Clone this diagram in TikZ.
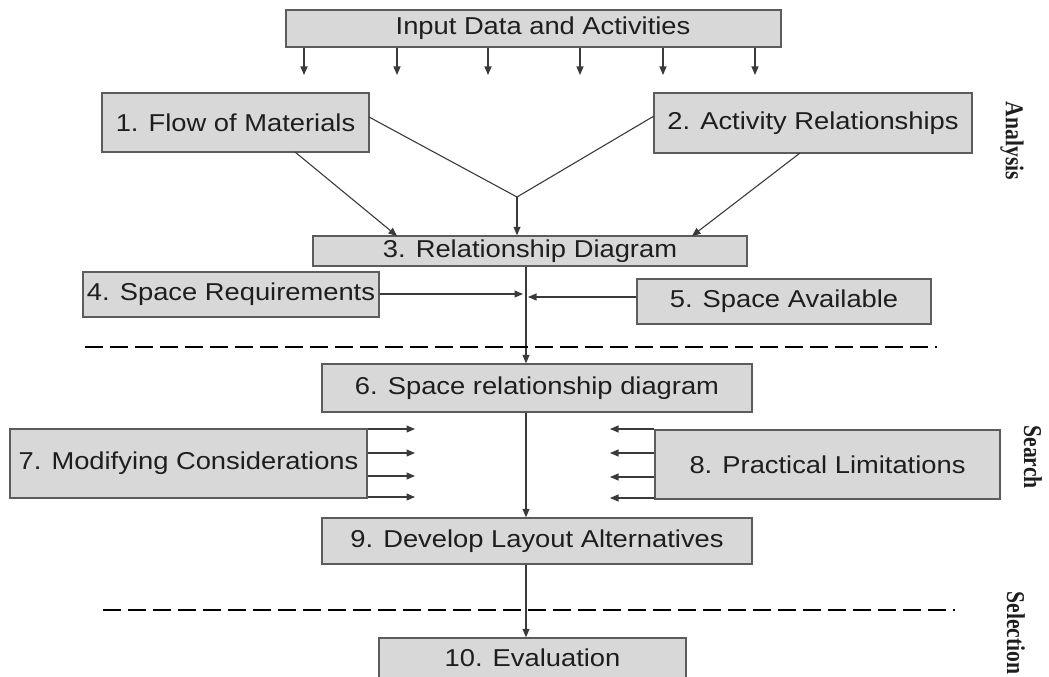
\documentclass[tikz,border=0pt]{standalone}
\usepackage{fontspec}
\usepackage{graphicx}
\setmainfont{Liberation Sans}
\newfontfamily\sidefont{Liberation Serif}
\usetikzlibrary{arrows.meta}
\definecolor{boxfill}{HTML}{D8D8D8}
\definecolor{boxline}{HTML}{5C5C5C}
\definecolor{wire}{HTML}{3A3A3A}
\definecolor{ink}{HTML}{1E1E1E}
% wide sans text used inside the boxes
\newcommand{\hx}[1]{\scalebox{1.12}[1]{#1}}
\tikzset{
  box/.style={draw=boxline, line width=1.4pt, fill=boxfill, inner sep=0pt,
    text=ink, font=\fontsize{24.4}{28}\selectfont},
  arr/.style={draw=wire, line width=1.1pt, -{Triangle[length=8.5pt,width=7pt]}},
  wire/.style={draw=wire, line width=1.1pt},
  sep/.style={draw=black, line width=2.8pt, dash pattern=on 18pt off 7pt},
  side/.style={rotate=-90, inner sep=0pt, text=ink,
    font=\sidefont\bfseries\fontsize{21.6}{24}\selectfont}
}
\begin{document}
\begin{tikzpicture}[x=1pt,y=-1pt]
\useasboundingbox (0,0) rectangle (1049,677);

% boxes
\node[box, minimum width=495pt, minimum height=37pt] (in) at (533.5,28.5) {\hspace{19pt}\hx{Input Data and Activities}};
\node[box, minimum width=267pt, minimum height=59pt] (b1) at (235.5,122.5) {\hx{1. Flow of Materials}};
\node[box, minimum width=318pt, minimum height=60pt] (b2) at (813,123) {\hx{2. Activity Relationships}};
\node[box, minimum width=434pt, minimum height=30pt] (b3) at (530,251) {\hx{3. Relationship Diagram}};
\node[box, minimum width=296pt, minimum height=45pt] (b4) at (231,294.5) {\hx{4. Space Requirements}};
\node[box, minimum width=294pt, minimum height=45pt] (b5) at (784,301.5) {\hx{5. Space Available}};
\node[box, minimum width=430pt, minimum height=48pt] (b6) at (537,388) {\hx{6. Space relationship diagram}};
\node[box, minimum width=357pt, minimum height=69pt] (b7) at (188.5,463.5) {\hx{7. Modifying Considerations}};
\node[box, minimum width=345pt, minimum height=69pt] (b8) at (827.5,464.5) {\hx{8. Practical Limitations}\hspace{45pt}};
\node[box, minimum width=430pt, minimum height=46pt] (b9) at (537,541) {\hx{9. Develop Layout Alternatives}};
\node[box, minimum width=307pt, minimum height=40pt] (b10) at (532.5,658) {\hx{10. Evaluation}};

% phase labels
\node[side] (lan) at (1012,141) {\scalebox{1}[1.19]{Analysis}};
\node[side] (lse) at (1033,457) {\scalebox{1}[1.19]{Search}};
\node[side] (lsl) at (1016,633) {\scalebox{1}[1.19]{Selection}};

% inputs fanning out below the top box
\foreach \i/\x in {1/304,2/397,3/488,4/580,5/663,6/755} {
  \coordinate (t\i) at (\x,75);
  \draw[arr] (in.south -| t\i) -- (t\i);
}

% flows into the relationship diagram
\coordinate (j) at (517,197);
\coordinate (b1r) at (369,117);
\coordinate (b2l) at (654,116);
\coordinate (b1s) at (295,152);
\coordinate (b2s) at (800,153);
\coordinate (b3a) at (397,236);
\coordinate (b3c) at (692,236);
\draw[wire] (b1r) -- (j) -- (b2l);
\draw[arr] (j) -- (b3.north -| j);
\draw[arr] (b1s) -- (b3a);
\draw[arr] (b2s) -- (b3c);

% spine through the middle
\coordinate (sp) at (526,0);
\coordinate (m4) at (523,294);
\coordinate (m5) at (528,297);
\draw[arr] (b3.south -| sp) -- (b6.north -| sp);
\draw[arr] (b4.east |- m4) -- (m4);
\draw[arr] (b5.west |- m5) -- (m5);
\draw[arr] (b6.south -| sp) -- (b9.north -| sp);
\draw[arr] (b9.south -| sp) -- (b10.north -| sp);

% side influences on the layout alternatives
\foreach \i/\y in {1/429,2/453,3/476,4/497} {
  \coordinate (l\i) at (415,\y);
  \draw[arr] (b7.east |- l\i) -- (l\i);
}
\foreach \i/\y in {1/429,2/453,3/477,4/498} {
  \coordinate (r\i) at (610,\y);
  \draw[arr] (b8.west |- r\i) -- (r\i);
}

% phase separators
\draw[sep] (85,347) -- (937,347);
\draw[sep] (103,610) -- (955,610);
\end{tikzpicture}
\end{document}
